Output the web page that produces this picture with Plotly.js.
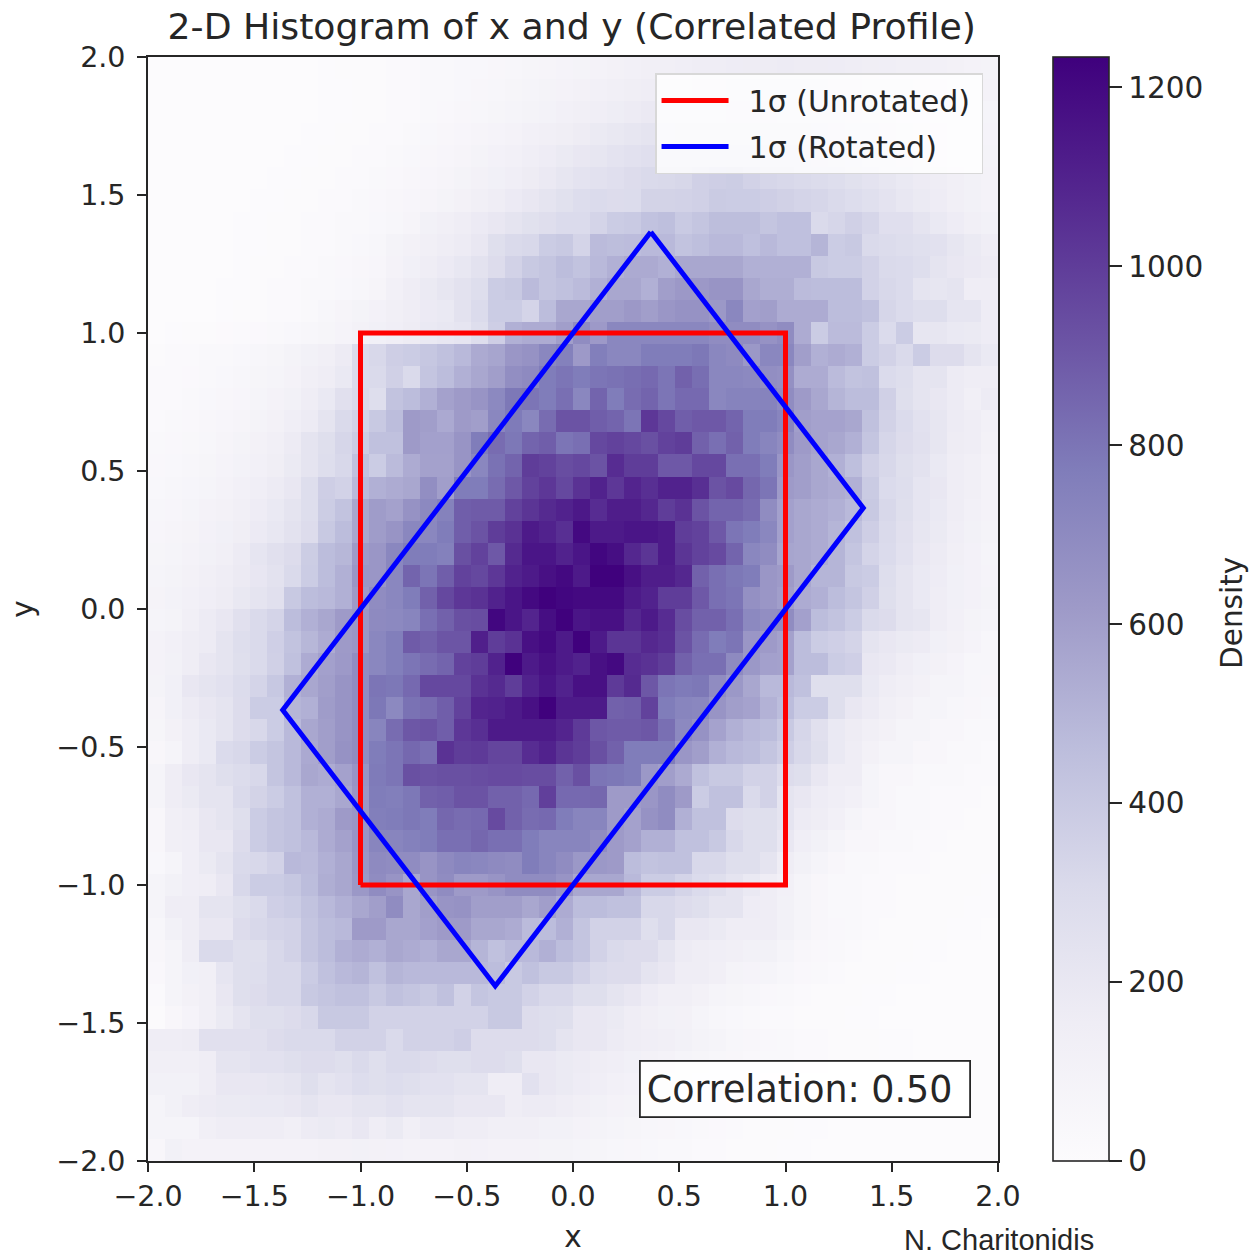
<!DOCTYPE html>
<html><head><meta charset="utf-8">
<script src="https://cdn.plot.ly/plotly-3.0.0.min.js"></script>
<style>html,body{margin:0;padding:0;background:#fff}#chart{width:1255px;height:1258px}</style>
</head><body><div id="chart"></div>
<script>
const densityRows = [
[0,0,0,0,0,0,0,0,0,0, 8,10,12,16,20,25,30,36,42,48, 52,60,68,76,84,90,98,108,118,128, 135,140,150,155,160,165,165,170,165,165, 160,155,148,140,135,128,118,108,100,92],
[0,0,0,1,1,1,2,3,3,4, 6,8,11,14,18,24,30,36,44,52, 60,70,80,90,100,110,122,134,146,155, 165,172,180,185,190,195,197,197,195,192, 185,180,172,165,155,146,134,122,110,100],
[0,0,0,1,1,2,2,3,4,5, 7,9,12,16,21,27,34,41,50,59, 70,80,92,104,117,130,144,158,170,185, 195,205,215,222,226,228,226,222,215,205, 195,185,170,158,144,130,117,104,92,80],
[0,0,1,1,2,2,3,4,5,7, 9,12,16,21,27,34,42,52,62,74, 86,100,116,130,148,164,180,195,210,225, 235,245,252,258,262,262,258,252,245,235, 225,210,195,180,164,148,130,116,100,86],
[0,1,1,1,2,3,4,5,7,9, 11,15,20,25,33,42,52,64,76,90, 105,122,140,160,180,200,215,235,250,265, 280,290,295,299,300,299,298,290,280,265, 250,235,215,200,180,160,140,122,105,90],
[0,1,1,2,3,4,5,7,9,12, 15,20,26,32,40,50,62,76,92,108, 125,142,165,185,210,235,250,265,290,305, 315,325,360,370,380,350,330,320,310,295, 280,255,235,215,190,170,150,130,115,95],
[0,1,2,2,3,5,7,9,12,15, 20,25,32,40,50,62,76,92,110,128, 150,175,200,225,255,285,300,290,295,345, 345,350,360,390,385,385,370,355,340,330, 310,285,262,235,205,180,160,135,115,100],
[0,1,2,3,4,6,8,11,14,18, 24,30,38,48,60,75,115,135,155,175, 200,230,255,275,300,300,340,385,395,435, 450,395,420,460,460,460,420,445,445,310, 330,360,330,265,265,230,190,160,135,115],
[0,1,2,3,5,7,9,12,16,21, 27,35,44,55,90,110,130,150,170,200, 270,310,320,385,400,340,470,460,465,480, 480,430,450,480,480,445,480,445,445,500, 385,400,307,295,280,262,250,210,180,150],
[0,1,2,3,5,8,11,15,19,25, 32,40,50,62,100,125,150,175,205,240, 290,350,400,420,461,430,480,520,545,545, 520,560,560,560,560,520,520,520,520,400, 385,385,350,307,300,280,230,200,185,170],
[0,1,2,4,6,9,13,18,24,30, 38,48,60,75,120,150,180,210,240,280, 385,400,470,420,440,470,520,560,560,520, 600,625,625,650,650,560,530,530,470,461, 461,461,350,320,300,230,210,230,150,150],
[0,1,3,5,7,11,15,20,26,34, 60,75,90,105,130,155,175,190,240,300, 385,385,340,461,560,560,600,600,625,600, 640,660,660,630,720,590,600,540,540,540, 461,461,440,330,300,280,280,220,220,160],
[5,7,10,13,17,22,28,36,45,55, 70,85,110,125,140,165,190,205,220,280, 370,520,540,540,600,690,620,720,720,720, 720,720,720,690,690,690,660,690,540,385, 470,470,385,300,385,215,215,190,180,160],
[15,18,23,30,38,47,58,70,90,115, 130,170,300,320,370,385,410,440,480,545, 570,640,660,720,750,620,760,720,720,769, 769,769,790,720,700,630,720,720,600,520, 540,520,385,350,310,385,290,290,230,190],
[18,23,28,36,45,56,68,82,95,130, 150,190,300,307,360,307,420,461,520,560, 600,680,700,769,800,769,800,810,825,840, 800,870,825,720,720,710,680,670,540,540, 470,430,440,300,280,230,230,170,155,155],
[22,27,34,42,52,64,78,95,115,154, 190,260,307,280,430,461,520,585,615,650, 710,790,800,769,820,720,860,769,830,860, 800,840,840,720,740,740,740,690,615,560, 500,461,461,360,270,230,200,170,130,170],
[27,33,41,50,62,76,92,110,140,170, 230,307,350,400,461,615,600,550,615,600, 720,780,720,830,920,920,880,860,800,1020, 960,880,900,900,860,769,769,730,600,580, 580,560,440,350,300,250,210,170,150,120],
[33,40,49,60,74,90,108,130,170,230, 270,330,385,440,440,615,590,590,650,769, 830,790,860,880,800,820,960,980,960,930, 980,1000,870,820,870,769,730,690,615,580, 560,520,420,330,290,260,210,165,150,110],
[40,48,58,71,86,104,124,145,180,230, 280,320,440,385,470,540,585,585,650,720, 810,860,1000,980,940,960,920,1060,1000,1000, 900,900,960,960,820,820,769,640,600,560, 520,450,360,320,270,240,190,150,130,100],
[47,56,67,82,99,118,140,170,200,280, 370,350,480,520,540,560,680,600,769,769, 830,900,980,1020,960,1040,1100,1020,1090,1050, 1100,1100,1050,920,950,850,800,615,600,560, 540,520,390,300,280,220,200,150,130,100],
[55,65,78,94,112,134,160,190,230,280, 380,430,560,610,585,660,710,745,880,890, 890,980,1030,1070,1100,1140,1060,1120,1120,1080, 1000,1040,920,860,860,830,690,590,560,540, 520,480,400,320,270,220,190,150,120,100],
[62,74,88,105,125,148,175,205,240,290, 400,461,560,610,650,720,720,769,880,920, 1000,1040,1130,1100,1050,1200,1130,1130,1150,1150, 1130,1000,980,900,800,769,720,590,560,540, 500,440,370,310,260,215,180,140,115,90],
[70,82,97,115,136,170,220,260,290,380, 461,490,615,640,720,769,769,750,930,980, 900,1070,1150,1150,1100,1150,1210,1180,1080,1030, 1130,1030,980,950,860,720,690,570,560,540, 500,420,340,300,250,200,170,130,105,80],
[78,92,108,127,150,178,208,240,307,385, 461,520,640,640,720,860,800,880,980,960, 1020,1100,1130,1170,1200,1130,1230,1230,1170,1120, 1120,1080,870,820,790,769,640,615,560,500, 500,400,385,280,230,190,160,125,105,85],
[87,102,120,140,165,195,225,260,400,461, 480,520,615,690,720,769,870,960,1020,1040, 1100,1150,1200,1230,1210,1200,1200,1200,1130,1100, 1000,1000,900,820,800,670,640,600,540,520, 461,420,360,270,230,190,150,125,105,90],
[80,90,130,170,200,260,307,340,461,520, 560,615,640,700,710,730,820,870,930,940, 1210,1150,1090,1180,1230,1150,1170,1170,1080,1130, 1060,940,870,870,820,710,680,690,590,461, 430,385,307,290,230,210,154,120,90,80],
[100,120,154,170,230,280,307,365,430,490, 540,615,640,720,760,890,870,910,910,1110, 1000,1040,1170,1200,1130,1230,1130,1030,1030,1076, 1050,920,830,769,800,640,615,585,461,385, 365,340,230,200,180,170,125,110,85,60],
[100,115,154,200,230,270,307,360,440,540, 590,620,690,720,760,800,830,860,980,1000, 1100,1230,1130,1170,1130,1100,1170,1200,1060,1040, 1000,870,820,820,700,630,590,585,461,461, 385,365,200,185,150,125,110,85,60,55],
[90,125,200,230,250,295,340,405,520,560, 600,650,690,800,790,840,960,960,960,1040, 1070,1000,1100,1150,1100,1170,1170,1010,1070,905, 800,780,790,690,630,560,480,480,440,270, 270,270,190,155,130,110,80,80,55,50],
[75,125,170,200,230,290,385,385,500,520, 610,650,690,790,710,810,830,880,980,1090, 1100,1130,1170,1230,1130,1130,1130,870,880,980, 769,730,720,650,600,580,510,461,385,385, 270,200,170,130,110,80,80,55,50,45],
[70,110,154,190,230,290,320,385,480,560, 600,650,690,730,830,905,920,880,1020,1050, 1130,1130,1130,1130,1090,1010,905,890,890,905, 820,710,660,580,520,480,461,400,330,260, 190,165,130,110,80,80,50,50,35,30],
[50,80,154,190,300,320,385,420,480,550, 600,660,690,769,800,845,820,1040,1000,1010, 970,970,1060,1100,1030,1000,930,870,769,769, 769,640,600,520,480,461,420,370,320,270, 190,155,110,80,80,50,50,35,30,25],
[80,154,200,230,270,295,320,420,480,560, 540,585,650,780,800,930,920,930,930,940, 950,950,940,940,870,930,800,790,769,630, 600,545,440,400,400,350,350,290,270,200, 155,154,80,50,50,30,30,30,20,20],
[80,154,180,230,230,310,345,385,440,520, 520,560,640,769,760,790,870,880,920,920, 870,870,840,990,840,840,850,615,615,640, 690,615,385,440,440,310,350,230,200,160, 140,120,80,50,30,30,25,20,20,15],
[50,130,154,200,230,270,385,420,440,520, 540,615,640,760,769,790,769,850,830,840, 950,870,830,840,769,730,730,615,585,660, 690,520,440,440,290,270,270,230,170,155, 120,80,50,50,30,30,25,20,15,15],
[50,130,140,200,200,290,385,420,440,480, 540,585,650,730,730,750,769,820,820,850, 820,820,769,730,730,730,690,615,585,520, 520,440,440,400,320,270,270,200,140,115, 80,50,50,30,30,25,20,15,15,12],
[45,80,140,180,230,307,320,350,480,470, 520,560,640,700,690,690,650,700,730,720, 700,690,769,730,690,630,630,615,461,430, 440,440,320,320,270,270,230,154,115,80, 50,35,30,25,20,20,15,15,12,10],
[80,115,140,154,200,320,385,385,410,461, 530,560,630,690,650,560,650,690,615,615, 650,690,690,690,650,560,560,560,480,385, 385,340,300,270,230,190,154,120,80,50, 35,30,25,20,15,15,12,10,10,8],
[80,154,154,230,230,270,307,365,385,430, 480,520,560,600,690,560,600,650,660,600, 600,600,560,600,540,461,461,440,440,320, 320,290,270,230,230,160,154,115,80,50, 35,30,25,20,15,12,10,10,8,6],
[60,115,154,200,200,290,320,340,350,420, 461,480,615,615,560,560,590,615,615,560, 560,540,470,461,520,420,350,350,350,270, 320,200,200,180,154,154,154,115,80,50, 40,30,20,15,12,10,10,8,6,5],
[50,80,154,307,307,270,270,320,350,420, 461,520,540,520,560,540,520,560,560,500, 440,480,480,520,461,420,350,310,290,290, 230,170,154,140,130,115,115,80,50,40, 30,20,15,12,10,8,6,5,5,5],
[40,80,125,130,220,270,280,320,320,385, 440,480,500,440,500,480,480,480,480,480, 461,400,440,400,400,350,310,290,290,230, 200,154,154,130,90,85,80,55,40,30, 20,15,12,10,8,6,5,5,4,4],
[20,80,110,130,200,270,290,320,320,400, 420,440,440,400,440,420,400,440,350,420, 400,400,350,320,320,270,270,230,200,160, 130,130,110,80,70,60,40,30,20,15, 12,10,8,6,5,5,4,4,3,3],
[15,50,85,130,180,230,270,270,290,320, 400,400,400,350,350,350,350,350,350,350, 400,400,290,280,270,200,200,180,154,130, 115,110,80,60,45,35,25,20,15,12, 10,8,6,5,4,4,3,3,2,2],
[150,150,165,260,260,260,260,290,307,307, 307,350,350,350,307,350,350,350,370,290, 290,290,290,280,230,200,200,170,155,140, 130,115,90,80,60,50,40,30,25,20, 15,12,10,8,6,5,4,3,3,2],
[130,130,130,155,230,230,250,250,270,290, 290,270,310,270,310,310,290,270,270,290, 290,270,200,200,180,170,150,140,125,110, 95,80,70,60,50,40,35,30,25,20, 15,12,10,8,6,5,4,3,2,2],
[115,115,115,150,200,200,200,215,230,270, 230,250,285,270,285,270,250,250,230,230, 154,154,250,200,180,160,140,120,105,90, 80,70,60,50,40,30,25,20,15,12, 10,8,6,5,4,3,2,2,1,1],
[80,115,154,170,180,180,190,190,200,230, 200,200,230,230,250,230,230,230,200,200, 200,154,170,170,150,130,115,100,90,80, 70,55,45,35,28,22,18,14,10,8, 6,5,4,3,3,2,2,1,1,1],
[80,80,80,130,150,150,150,155,130,170, 180,170,200,155,180,130,170,170,155,155, 130,130,130,115,115,100,90,80,70,60, 50,42,35,28,22,16,12,10,8,6, 5,4,3,2,2,1,1,1,1,1],
[50,115,100,100,100,100,100,100,100,100, 110,110,115,110,105,100,100,100,110,105, 100,100,100,90,90,80,70,60,50,45, 38,30,25,20,16,12,10,8,6,5, 4,3,2,2,1,1,1,1,0,0]
];
const unrotatedX = [-1, 1, 1, -1, -1];
const unrotatedY = [-1, -1, 1, 1, -1];
const rotatedX = [0.366, 1.366, -0.366, -1.366, 0.366];
const rotatedY = [1.366, 0.366, -1.366, -0.366, 1.366];
const axisTicks = [-2, -1.5, -1, -0.5, 0, 0.5, 1, 1.5, 2];
const densityTicks = [0, 200, 400, 600, 800, 1000, 1200];
const purples = [[0,'#fcfbfd'],[0.125,'#efedf5'],[0.25,'#dadaeb'],[0.375,'#bcbddc'],[0.5,'#9e9ac8'],[0.625,'#807dba'],[0.75,'#6a51a3'],[0.875,'#54278f'],[1,'#3f007d']];
const ink = '#262626', dv = '"DejaVu Sans", sans-serif';

const axisBase = {range:[-2,2], tickvals:axisTicks, tickformat:'.1f', ticks:'outside', ticklen:9, tickwidth:1.6, tickcolor:ink,
  showline:true, mirror:true, linecolor:ink, linewidth:1.6, showgrid:false, zeroline:false, tickfont:{family:dv,size:28.5,color:ink}};

Plotly.newPlot('chart', [
 {type:'heatmap', z:densityRows, x0:-1.96, dx:0.08, y0:1.96, dy:-0.08, zmin:0, zmax:1234, colorscale:purples, showlegend:false,
  colorbar:{lenmode:'pixels', len:1104, thicknessmode:'pixels', thickness:56, x:1.0647, xanchor:'left', xpad:0, y:1, yanchor:'top', ypad:0,
    outlinecolor:ink, outlinewidth:1.6, tickvals:densityTicks, ticks:'outside', ticklen:13, tickwidth:1.6, tickcolor:ink,
    tickfont:{family:dv,size:29.5,color:ink}}},
 {type:'scatter', mode:'lines', name:'\u20021σ (Unrotated)\u2009', legendgroup:'a', x:unrotatedX, y:unrotatedY, line:{color:'#ff0000',width:5}},
 {type:'scatter', mode:'lines', name:'\u20021σ (Rotated)\u2009', legendgroup:'b', x:rotatedX, y:rotatedY, line:{color:'#0000ff',width:5}}
], {
 width:1255, height:1258, paper_bgcolor:'#fff', plot_bgcolor:'#fff',
 margin:{l:148,r:257,t:57,b:97,pad:0},
 title:{text:'2-D Histogram of x and y (Correlated Profile)', font:{family:dv,size:36.2,color:ink}, x:0.4556, xanchor:'center', y:0.979, yanchor:'middle'},
 xaxis:Object.assign({}, axisBase, {title:{text:'x', font:{family:dv,size:29.5,color:ink}, standoff:14}}),
 yaxis:Object.assign({}, axisBase, {ticklabelstandoff:6, title:{text:'y', font:{family:dv,size:29.5,color:ink}, standoff:14}}),
 legend:{x:0.9824, xanchor:'right', y:0.9855, yanchor:'top', bgcolor:'rgba(255,255,255,0.82)', bordercolor:'#d8d8d8', borderwidth:1.5,
   font:{family:dv,size:30,color:ink}, itemwidth:67, traceorder:'grouped', tracegroupgap:4},
 annotations:[
  {text:'Correlation: 0.50', xref:'paper', yref:'paper', x:0.7724, y:0.0652, xanchor:'center', yanchor:'middle', showarrow:false, width:316, height:42, align:'left', valign:'top',
   font:{family:dv,size:36.4,color:ink}, bgcolor:'rgba(255,255,255,0.85)', bordercolor:ink, borderwidth:1.8, borderpad:6},
  {text:'Density', xref:'paper', yref:'paper', x:1.2753, y:0.4964, xanchor:'center', yanchor:'middle', textangle:-90, showarrow:false,
   font:{family:dv,size:29.5,color:ink}},
  {text:'N. Charitonidis', xref:'paper', yref:'paper', x:1.0012, y:-0.0718, xanchor:'center', yanchor:'middle', showarrow:false,
   font:{family:'"Liberation Sans", Arial, sans-serif',size:29,color:ink}}
 ]
}, {displayModeBar:false});
</script></body></html>
